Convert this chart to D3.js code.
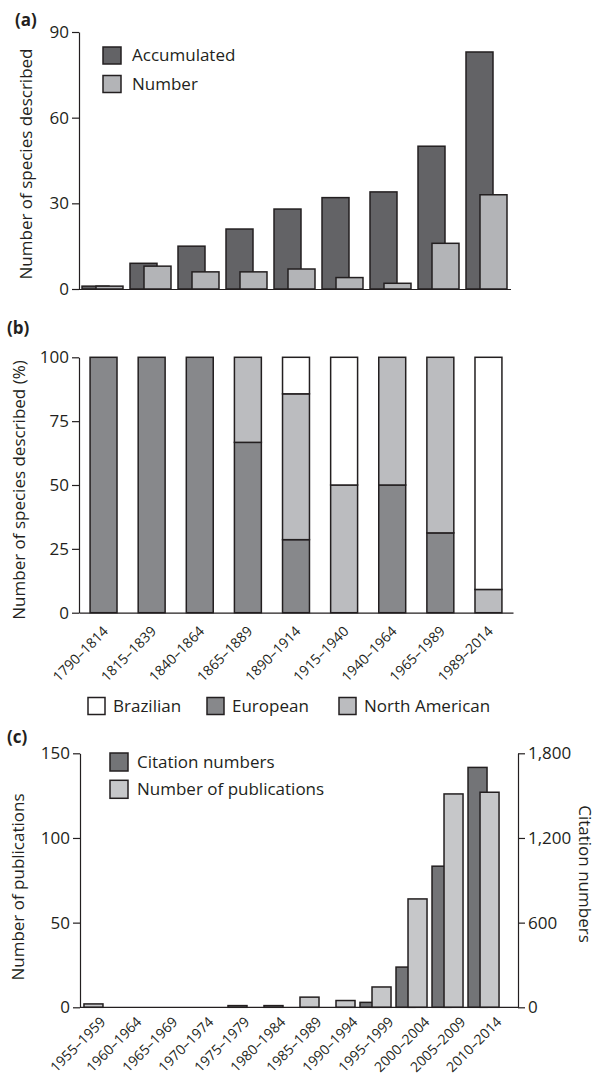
<!DOCTYPE html>
<html>
<head>
<meta charset="utf-8">
<script src="https://cdn.jsdelivr.net/npm/d3@7/dist/d3.min.js"></script>
<style>
  html, body { margin: 0; padding: 0; background: #fff; }
  svg { display: block; }
  text { font-family: "Open Sans", "Noto Sans", sans-serif; fill: #231f20; }
</style>
</head>
<body>
<svg id="chart" width="598" height="1077"></svg>
<script>
// ---------- DATA ----------
const aCategories = ["1790–1814","1815–1839","1840–1864","1865–1889","1890–1914","1915–1940","1940–1964","1965–1989","1989–2014"];
const aAccumulated = [1, 9, 15, 21, 28, 32, 34, 50, 83];
const aNumber      = [1, 8, 6, 6, 7, 4, 2, 16, 33];
const aTicks = [0, 30, 60, 90];
const aSeries = ["Accumulated", "Number"];

const bCategories = aCategories;
const bEuropean      = [100, 100, 100, 66.7, 28.6, 0, 50, 31.25, 0];
const bNorthAmerican = [0, 0, 0, 33.3, 57.1, 50, 50, 68.75, 9.1];
const bBrazilian     = [0, 0, 0, 0, 14.3, 50, 0, 0, 90.9];
const bTicks = [0, 25, 50, 75, 100];
const bSeries = ["Brazilian", "European", "North American"];

const cCategories = ["1955–1959","1960–1964","1965–1969","1970–1974","1975–1979","1980–1984","1985–1989","1990–1994","1995–1999","2000–2004","2005–2009","2010–2014"];
const cPublications = [2, 0, 0, 0, 1, 1, 6, 4, 12, 64, 126, 127];
const cCitations    = [0, 0, 0, 0, 0, 0, 0, 0, 35, 285, 1000, 1700];
const cLeftTicks  = [0, 50, 100, 150];
const cRightTicks = [0, 600, 1200, 1800];
const cSeries = ["Citation numbers", "Number of publications"];

// ---------- STYLE ----------
const STROKE = "#231f20";
const SW = 1.5;
const colA = { acc: "#636366", num: "#b3b4b7" };
const colB = { Brazilian: "#ffffff", European: "#87888b", "North American": "#bbbcbf" };
const colC = { cit: "#737477", pub: "#c6c7c9" };

const svg = d3.select("#chart");

function styleAxis(g) {
  g.selectAll("path.domain").attr("stroke", STROKE).attr("stroke-width", 1.2);
  g.selectAll(".tick line").attr("stroke", STROKE).attr("stroke-width", 1.2);
  g.selectAll(".tick text").attr("font-size", 17).attr("fill", STROKE)
    .style("font-family", '"Open Sans", sans-serif');
}

// ================= PANEL A =================
{
  const L = 79, T = 32, B = 289;
  const x = d3.scaleBand().domain(aCategories).range([78.5, 510.5]).paddingInner(0.146).paddingOuter(0.073);
  const y = d3.scaleLinear().domain([0, 90]).range([B, T]);
  const bw = x.bandwidth();
  const w = bw * 27 / 41, off = bw * 14 / 41;
  const g = svg.append("g");

  g.append("g").selectAll("rect").data(aAccumulated).join("rect")
    .attr("x", (d, i) => x(aCategories[i])).attr("y", d => y(d))
    .attr("width", w).attr("height", d => y(0) - y(d))
    .attr("fill", colA.acc).attr("stroke", STROKE).attr("stroke-width", SW);
  g.append("g").selectAll("rect").data(aNumber).join("rect")
    .attr("x", (d, i) => x(aCategories[i]) + off).attr("y", d => y(d))
    .attr("width", w).attr("height", d => y(0) - y(d))
    .attr("fill", colA.num).attr("stroke", STROKE).attr("stroke-width", SW);

  const ya = g.append("g").attr("transform", `translate(${L},0)`)
    .call(d3.axisLeft(y).tickValues(aTicks).tickSize(7).tickPadding(3).tickSizeOuter(0));
  styleAxis(ya);
  const xa = g.append("g").attr("transform", `translate(0,${B})`)
    .call(d3.axisBottom(x).tickSize(0).tickFormat(""));
  styleAxis(xa);

  g.append("text").attr("transform", `translate(32,164) rotate(-90)`)
    .attr("text-anchor", "middle").attr("font-size", 17).text("Number of species described");
  g.append("text").attr("x", 15).attr("y", 26).attr("font-size", 17).attr("font-weight", "bold").text("(a)");

  const lg = g.append("g");
  aSeries.forEach((s, i) => {
    lg.append("rect").attr("x", 103).attr("y", 47 + i * 28.5).attr("width", 18).attr("height", 17)
      .attr("fill", i === 0 ? colA.acc : colA.num).attr("stroke", STROKE).attr("stroke-width", SW);
    lg.append("text").attr("x", 132).attr("y", 55.5 + i * 28.5).attr("dy", "0.35em")
      .attr("font-size", 17).text(s);
  });
}

// ================= PANEL B =================
{
  const L = 79, T = 357.3, B = 612.7;
  const x = d3.scaleBand().domain(bCategories).range([79, 513]).paddingInner(0.44).paddingOuter(0.23);
  const y = d3.scaleLinear().domain([0, 100]).range([B, T]);
  const rows = bCategories.map((c, i) => ({ cat: c, "European": bEuropean[i], "North American": bNorthAmerican[i], "Brazilian": bBrazilian[i] }));
  const stack = d3.stack().keys(["European", "North American", "Brazilian"]);
  const layers = stack(rows);
  const g = svg.append("g");

  layers.forEach(layer => {
    g.append("g").selectAll("rect").data(layer.filter(d => d[1] - d[0] > 0)).join("rect")
      .attr("x", d => x(d.data.cat)).attr("y", d => y(d[1]))
      .attr("width", x.bandwidth()).attr("height", d => y(d[0]) - y(d[1]))
      .attr("fill", colB[layer.key]).attr("stroke", STROKE).attr("stroke-width", SW);
  });

  const ya = g.append("g").attr("transform", `translate(${L},0)`)
    .call(d3.axisLeft(y).tickValues(bTicks).tickSize(7).tickPadding(3).tickSizeOuter(0));
  styleAxis(ya);
  const xa = g.append("g").attr("transform", `translate(0,${B})`)
    .call(d3.axisBottom(x).tickSize(0).tickFormat(""));
  styleAxis(xa);

  g.append("g").selectAll("text").data(bCategories).join("text")
    .attr("transform", d => `translate(${x(d) + x.bandwidth() / 2 + 2},${B + 16}) rotate(-45)`)
    .attr("text-anchor", "end").attr("dy", "0.35em").attr("font-size", 14).text(d => d);

  g.append("text").attr("transform", `translate(25,490) rotate(-90)`)
    .attr("text-anchor", "middle").attr("font-size", 17).text("Number of species described (%)");
  g.append("text").attr("x", 7).attr("y", 334).attr("font-size", 17).attr("font-weight", "bold").text("(b)");

  const lx = [88, 207, 339];
  bSeries.forEach((s, i) => {
    g.append("rect").attr("x", lx[i]).attr("y", 697.5).attr("width", 17).attr("height", 17)
      .attr("fill", colB[s]).attr("stroke", STROKE).attr("stroke-width", SW);
    g.append("text").attr("x", lx[i] + 25).attr("y", 706).attr("dy", "0.35em")
      .attr("font-size", 17).text(s);
  });
}

// ================= PANEL C =================
{
  const L = 80, R = 518, T = 753.3, B = 1007.3;
  const x = d3.scaleBand().domain(cCategories).range([80, 503]).paddingInner(0.472).paddingOuter(0.11);
  const yL = d3.scaleLinear().domain([0, 150]).range([B, T]);
  const yR = d3.scaleLinear().domain([0, 1800]).range([B, T]);
  const bw = x.bandwidth();
  const citOff = bw * 12 / 19;
  const g = svg.append("g");

  const citRows = cCitations.map((v, i) => ({ v, c: cCategories[i] })).filter(d => d.v > 0);
  const pubRows = cPublications.map((v, i) => ({ v, c: cCategories[i] })).filter(d => d.v > 0);

  g.append("g").selectAll("rect").data(citRows).join("rect")
    .attr("x", d => x(d.c) - citOff)
    .attr("y", d => yR(d.v)).attr("width", bw).attr("height", d => yR(0) - yR(d.v))
    .attr("fill", colC.cit).attr("stroke", STROKE).attr("stroke-width", SW);
  g.append("g").selectAll("rect").data(pubRows).join("rect")
    .attr("x", d => x(d.c)).attr("y", d => yL(d.v)).attr("width", bw).attr("height", d => yL(0) - yL(d.v))
    .attr("fill", colC.pub).attr("stroke", STROKE).attr("stroke-width", SW);

  const ya = g.append("g").attr("transform", `translate(${L},0)`)
    .call(d3.axisLeft(yL).tickValues(cLeftTicks).tickSize(7).tickPadding(3).tickSizeOuter(0));
  styleAxis(ya);
  const yb = g.append("g").attr("transform", `translate(${R},0)`)
    .call(d3.axisRight(yR).tickValues(cRightTicks).tickFormat(d3.format(",")).tickSize(7).tickPadding(3).tickSizeOuter(0));
  styleAxis(yb);
  g.append("line").attr("x1", L).attr("x2", R).attr("y1", B).attr("y2", B)
    .attr("stroke", STROKE).attr("stroke-width", 1.2);

  g.append("g").selectAll("text").data(cCategories).join("text")
    .attr("transform", d => `translate(${x(d) + bw},${B + 12}) rotate(-45)`)
    .attr("text-anchor", "end").attr("dy", "0.35em").attr("font-size", 14).text(d => d);

  g.append("text").attr("transform", `translate(24,887) rotate(-90)`)
    .attr("text-anchor", "middle").attr("font-size", 17).text("Number of publications");
  g.append("text").attr("transform", `translate(579,874) rotate(90)`)
    .attr("text-anchor", "middle").attr("font-size", 17).text("Citation numbers");
  g.append("text").attr("x", 7).attr("y", 743).attr("font-size", 17).attr("font-weight", "bold").text("(c)");

  cSeries.forEach((s, i) => {
    g.append("rect").attr("x", 110).attr("y", 753 + i * 27.3).attr("width", 18).attr("height", 18)
      .attr("fill", i === 0 ? colC.cit : colC.pub).attr("stroke", STROKE).attr("stroke-width", SW);
    g.append("text").attr("x", 137).attr("y", 762 + i * 27.3).attr("dy", "0.35em")
      .attr("font-size", 17).text(s);
  });
}
</script>
</body>
</html>
